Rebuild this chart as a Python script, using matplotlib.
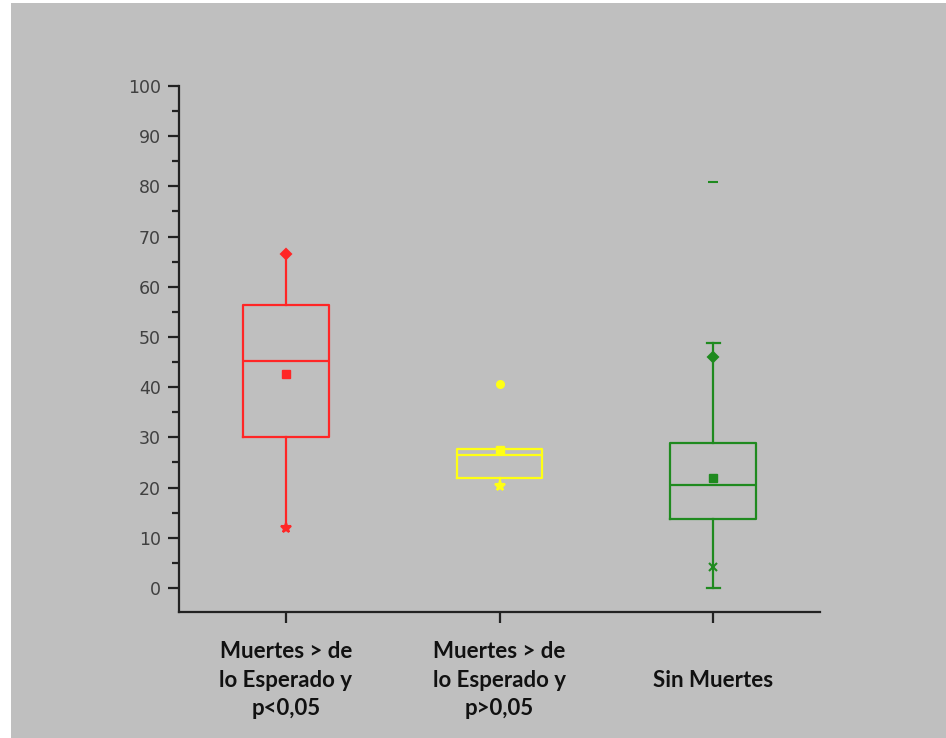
import matplotlib
matplotlib.use("Agg")
import matplotlib.pyplot as plt
from matplotlib.patches import Rectangle
from matplotlib.ticker import MultipleLocator

# groups and box statistics
labels = ["Muertes > de\nlo Esperado y\np<0,05", "Muertes > de\nlo Esperado y\np>0,05", "Sin Muertes"]
colors = ["#FF2626", "#FFFF14", "#1F8A1F"]
q1 = [30.1, 21.8, 13.8]
median = [45.3, 26.5, 20.6]
q3 = [56.4, 27.7, 28.9]
mean = [42.6, 27.4, 21.8]
whislo = [12.0, 20.3, 0.0]
whishi = [66.5, 27.7, 48.7]
has_caps = [False, False, True]

# extra markers (value, marker) per group
extra_pts = [
    [(66.5, "D"), (12.0, "*")],
    [(40.6, "o"), (20.3, "*")],
    [(46.0, "D"), (4.1, "x"), (80.8, "_")],
]

fig = plt.figure(figsize=(9.46, 7.38), dpi=100, facecolor="white")
fig.patches.append(Rectangle((11 / 946, 0), 1, 1 - 3 / 738, transform=fig.transFigure,
                             facecolor="#BFBFBF", edgecolor="none", zorder=-10))
ax = fig.add_axes([179 / 946, 1 - 612 / 738, (820 - 179) / 946, (612 - 86) / 738])
ax.set_facecolor("none")

for i in range(3):
    stats = [dict(med=median[i], q1=q1[i], q3=q3[i], whislo=whislo[i], whishi=whishi[i],
                  mean=mean[i], fliers=[])]
    c = colors[i]
    ax.bxp(stats, positions=[i + 1], widths=0.4, showcaps=has_caps[i], capwidths=0.06,
           showmeans=True, showfliers=False,
           boxprops=dict(color=c, linewidth=1.6),
           medianprops=dict(color=c, linewidth=1.6),
           whiskerprops=dict(color=c, linewidth=1.6),
           capprops=dict(color=c, linewidth=1.6),
           meanprops=dict(marker="s", markerfacecolor=c, markeredgecolor=c, markersize=5.5))
    for val, m in extra_pts[i]:
        ms = 5
        if m == "x":
            ms = 6
        if m == "_":
            ms = 7
        if m == "*":
            ms = 7
        ax.plot([i + 1], [val], marker=m, color=c, markersize=ms, markeredgewidth=1.5,
                linestyle="none")

ax.set_xlim(0.5, 3.5)
ax.set_ylim(-4.8, 100)
ax.spines["top"].set_visible(False)
ax.spines["right"].set_visible(False)
for s in ["left", "bottom"]:
    ax.spines[s].set_linewidth(1.6)
    ax.spines[s].set_color("#222222")

ax.yaxis.set_major_locator(MultipleLocator(10))
ax.yaxis.set_minor_locator(MultipleLocator(5))
ax.set_yticks(range(0, 101, 10))
ax.tick_params(axis="y", which="major", length=8, width=1.6, color="#222222",
               labelsize=12.5, labelcolor="#404040", pad=5)
ax.tick_params(axis="y", which="minor", length=5, width=1.6, color="#222222")
ax.set_xticks([1, 2, 3])
ax.set_xticklabels(labels, fontfamily="Lato", fontweight="bold", fontsize=16,
                   va="center", linespacing=1.45)
ax.tick_params(axis="x", which="major", length=8, width=1.6, color="#222222",
               labelcolor="#111111", pad=41)

fig.savefig("out.png", dpi=100, facecolor=fig.get_facecolor())
